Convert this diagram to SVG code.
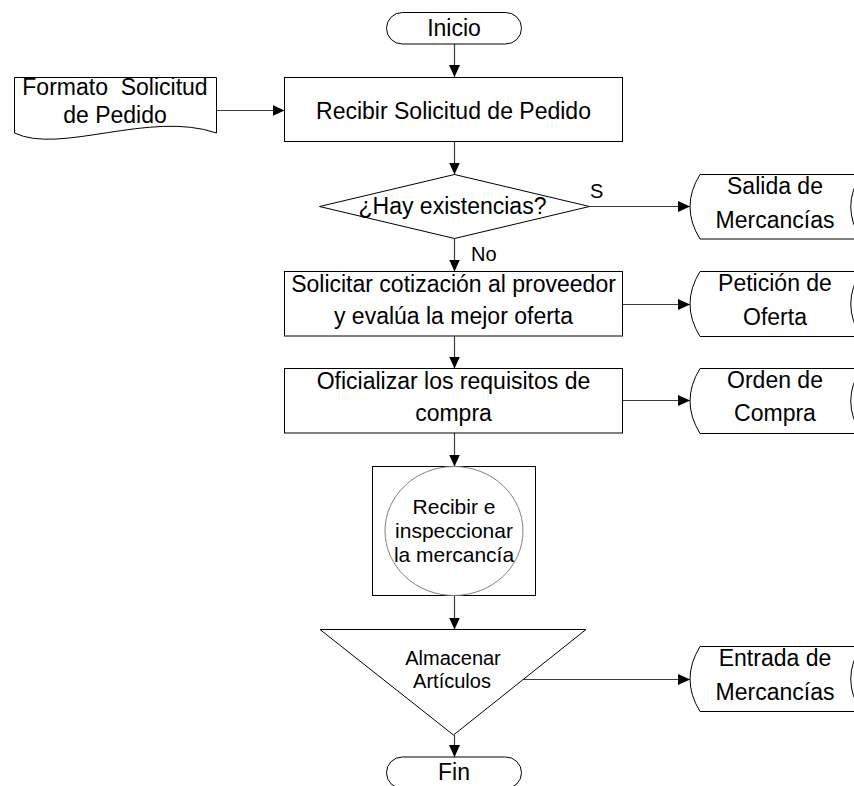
<svg xmlns="http://www.w3.org/2000/svg" width="854" height="786" viewBox="0 0 854 786">
  <style>
    .shape { fill: #fff; stroke: #000; stroke-width: 1; }
    .soft { fill: none; stroke: #808080; stroke-width: 1; }
    .conn { fill: none; stroke: #3c3c3c; stroke-width: 1.2; marker-end: url(#arrow); }
    text { font-family: "Liberation Sans", Arial, sans-serif; fill: #000; text-anchor: middle; }
    .t23 { font-size: 23px; }
    .t21 { font-size: 21px; }
    .t20 { font-size: 20px; }
  </style>
  <defs>
    <marker id="arrow" markerWidth="12" markerHeight="11" refX="12" refY="5.5" orient="auto" markerUnits="userSpaceOnUse">
      <path d="M0,0 L12,5.5 L0,11 Z" fill="#000"/>
    </marker>
  </defs>

  <rect width="854" height="786" fill="#fff"/>

  <!-- connectors -->
  <g id="connectors">
    <line class="conn" x1="454.5" y1="44" x2="454.5" y2="77"/>
    <line class="conn" x1="216.5" y1="110.5" x2="284.5" y2="110.5"/>
    <line class="conn" x1="454.5" y1="142" x2="454.5" y2="174.5"/>
    <line class="conn" x1="589.5" y1="206.5" x2="690" y2="206.5"/>
    <line class="conn" x1="454.5" y1="238.5" x2="454.5" y2="271.5"/>
    <line class="conn" x1="622.5" y1="304.5" x2="690" y2="304.5"/>
    <line class="conn" x1="454.5" y1="336" x2="454.5" y2="368.5"/>
    <line class="conn" x1="622.5" y1="400.5" x2="690" y2="400.5"/>
    <line class="conn" x1="454.5" y1="433" x2="454.5" y2="466.5"/>
    <line class="conn" x1="454.5" y1="595.5" x2="454.5" y2="629.5"/>
    <line class="conn" x1="523" y1="679.5" x2="690" y2="679.5"/>
    <line class="conn" x1="454.5" y1="735" x2="454.5" y2="757"/>
    <text class="t20" x="590" y="198" style="text-anchor:start">S</text>
    <text class="t20" x="471" y="261" style="text-anchor:start">No</text>
  </g>

  <!-- start terminator -->
  <g id="inicio">
    <rect class="shape" x="386.5" y="12.5" width="135" height="31.5" rx="15.75"/>
    <text class="t23" x="454" y="36">Inicio</text>
  </g>

  <!-- input document -->
  <g id="formato">
    <path class="shape" d="M14.5,77.5 H216.5 V133 C150,110 60,155 14.5,133 Z"/>
    <text class="t23" x="115" y="95" style="white-space:pre">Formato  Solicitud</text>
    <text class="t23" x="115" y="123">de Pedido</text>
  </g>

  <g id="recibir">
    <rect class="shape" x="284.5" y="77.5" width="338" height="64"/>
    <text class="t23" x="453.5" y="119">Recibir Solicitud de Pedido</text>
  </g>

  <!-- decision -->
  <g id="existencias">
    <polygon class="shape" points="454.5,174.5 589.5,206.5 454.5,238.5 319.5,206.5"/>
    <text class="t23" x="452.5" y="213.5">¿Hay existencias?</text>
  </g>

  <g id="solicitar">
    <rect class="shape" x="284.5" y="271.5" width="338" height="64.5"/>
    <text class="t23" x="453.5" y="291.5">Solicitar cotización al proveedor</text>
    <text class="t23" x="453.5" y="324">y evalúa la mejor oferta</text>
  </g>

  <g id="oficializar">
    <rect class="shape" x="284.5" y="368.5" width="338" height="64.5"/>
    <text class="t23" x="453.5" y="389">Oficializar los requisitos de</text>
    <text class="t23" x="453.5" y="420.5">compra</text>
  </g>

  <!-- inspection: square with inscribed circle -->
  <g id="inspeccion">
    <rect class="shape" x="372.5" y="466.5" width="163" height="129"/>
    <ellipse class="soft" cx="454" cy="531" rx="69" ry="64.5"/>
    <text class="t21" x="454" y="514">Recibir e</text>
    <text class="t21" x="454" y="538">inspeccionar</text>
    <text class="t21" x="454" y="562">la mercancía</text>
  </g>

  <!-- storage -->
  <g id="almacenar">
    <polygon class="shape" points="320,629.5 586,629.5 453.5,735"/>
    <text class="t20" x="453" y="665">Almacenar</text>
    <text class="t20" x="452" y="688">Artículos</text>
  </g>

  <g id="fin">
    <rect class="shape" x="386.5" y="757" width="135" height="31.5" rx="15.75"/>
    <text class="t23" x="454" y="780">Fin</text>
  </g>

  <!-- stored-data documents on the right -->
  <g id="salida">
    <path class="shape" d="M700,174.5 H861 Q840.5,206.75 861,239 H700 Q680,206.75 700,174.5 Z"/>
    <text class="t23" x="775" y="194">Salida de</text>
    <text class="t23" x="775" y="228">Mercancías</text>
  </g>

  <g id="peticion">
    <path class="shape" d="M700,271.5 H861 Q840.5,304 861,336.5 H700 Q680,304 700,271.5 Z"/>
    <text class="t23" x="775" y="291">Petición de</text>
    <text class="t23" x="775" y="325">Oferta</text>
  </g>

  <g id="orden">
    <path class="shape" d="M700,368.5 H861 Q840.5,401 861,433.5 H700 Q680,401 700,368.5 Z"/>
    <text class="t23" x="775" y="388">Orden de</text>
    <text class="t23" x="775" y="421">Compra</text>
  </g>

  <g id="entrada">
    <path class="shape" d="M700,646.5 H861 Q840.5,679 861,711.5 H700 Q680,679 700,646.5 Z"/>
    <text class="t23" x="775" y="666">Entrada de</text>
    <text class="t23" x="775" y="700">Mercancías</text>
  </g>
</svg>
